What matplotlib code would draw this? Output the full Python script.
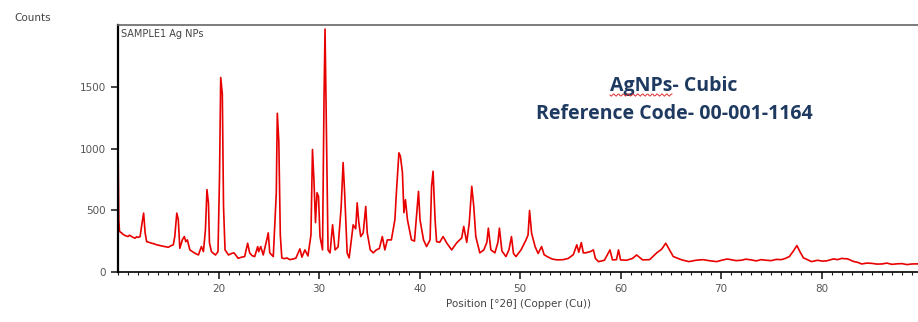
import numpy as np
import matplotlib
matplotlib.use("Agg")
import matplotlib.pyplot as plt
from matplotlib.ticker import MultipleLocator

two_theta = [
    10.02, 10.08, 10.15, 10.25, 10.35, 10.5, 10.6, 10.8, 11.0, 11.15, 11.3, 11.5, 11.7, 11.85,
    12.0, 12.2, 12.4, 12.55, 12.7, 12.85, 13.1, 13.35, 13.6, 13.85, 14.1, 14.35, 14.7, 15.0,
    15.25, 15.5, 15.65, 15.85, 16.0, 16.15, 16.4, 16.6, 16.75, 16.9, 17.15, 17.4, 17.65, 18.0,
    18.3, 18.5, 18.7, 18.85, 19.0, 19.1, 19.3, 19.5, 19.7, 19.95, 20.1, 20.22, 20.38, 20.5,
    20.65, 21.0, 21.3, 21.55, 21.95, 22.3, 22.6, 22.9, 23.1, 23.35, 23.6, 23.9, 24.0, 24.2,
    24.45, 24.8, 24.95, 25.1, 25.45, 25.75, 25.85, 26.0, 26.15, 26.3, 26.55, 26.8, 27.1, 27.4,
    27.7, 28.1, 28.3, 28.6, 28.9, 29.2, 29.35, 29.5, 29.65, 29.8, 29.95, 30.1, 30.35, 30.5,
    30.6, 30.75, 30.9, 31.1, 31.35, 31.6, 31.9, 32.2, 32.4, 32.55, 32.8, 33.0, 33.4, 33.65,
    33.8, 33.95, 34.15, 34.4, 34.65, 34.8, 35.1, 35.4, 35.7, 36.0, 36.3, 36.55, 36.8, 37.2,
    37.55, 37.7, 37.95, 38.1, 38.3, 38.45, 38.6, 38.8, 39.0, 39.2, 39.5, 39.75, 39.9, 40.05,
    40.4, 40.7, 41.05, 41.2, 41.35, 41.55, 41.7, 42.0, 42.35, 42.7, 43.2, 43.7, 44.2, 44.4,
    44.7, 44.95, 45.2, 45.4, 45.6, 46.0, 46.4, 46.7, 46.85, 47.1, 47.5, 47.8, 47.95, 48.2,
    48.6, 48.9, 49.15, 49.35, 49.6, 50.1, 50.6, 50.8, 50.95, 51.15, 51.5, 51.8, 52.15, 52.4,
    52.7, 53.2, 53.7, 54.3, 54.8, 55.3, 55.65, 55.85, 56.1, 56.3, 56.5, 57.0, 57.3, 57.5,
    57.8, 58.4, 58.95, 59.2, 59.6, 59.8, 60.0, 60.6, 61.2, 61.6, 62.2, 62.9, 63.6, 64.1,
    64.5, 64.8, 65.25, 66.1, 66.8, 67.5, 68.2, 68.8, 69.55, 70.2, 70.6, 71.0, 71.5, 72.0,
    72.5, 73.0, 73.5, 74.0, 74.5, 75.0, 75.5, 76.0, 76.4, 76.8, 77.2, 77.55, 77.85, 78.2,
    78.6, 79.0, 79.6, 80.1, 80.5, 81.2, 81.6, 82.0, 82.6, 83.2, 83.6, 84.0, 84.5, 85.0,
    85.5, 86.0, 86.5, 87.0, 87.5, 88.0, 88.5, 89.0, 89.6,
]
counts = [
    895, 420, 330, 322, 317, 305, 300, 292, 287, 298, 290, 280, 274, 285,
    280, 287, 400, 477, 317, 246, 240, 233, 228, 220, 216, 211, 205, 200,
    212, 220, 287, 477, 423, 192, 260, 287, 246, 260, 179, 165, 152, 138,
    206, 165, 342, 667, 558, 236, 165, 150, 138, 165, 765, 1575, 1440, 531,
    179, 138, 150, 155, 111, 120, 125, 233, 155, 132, 125, 206, 165, 206,
    138, 260, 317, 155, 125, 640, 1285, 1060, 300, 114, 108, 114, 100, 105,
    112, 187, 120, 179, 130, 300, 992, 734, 400, 642, 612, 287, 179, 1414,
    1967, 1049, 179, 155, 382, 179, 203, 520, 886, 642, 155, 114, 382, 350,
    560, 409, 287, 317, 531, 317, 179, 155, 179, 190, 287, 179, 260, 260,
    423, 642, 965, 938, 805, 480, 585, 423, 342, 260, 250, 500, 653, 423,
    260, 206, 260, 694, 816, 423, 246, 240, 287, 236, 179, 236, 276, 369,
    240, 398, 694, 531, 287, 155, 179, 240, 355, 179, 155, 240, 355, 170,
    125, 180, 287, 150, 125, 179, 260, 300, 498, 315, 206, 150, 206, 140,
    125, 105, 98, 100, 110, 140, 220, 160, 238, 155, 155, 165, 179, 110,
    84, 95, 179, 98, 100, 179, 98, 95, 110, 138, 98, 100, 155, 185,
    233, 190, 125, 98, 84, 95, 100, 92, 84, 98, 105, 100, 92, 95,
    104, 98, 90, 100, 95, 92, 102, 100, 110, 125, 170, 214, 165, 114,
    100, 84, 95, 88, 90, 106, 100, 110, 106, 85, 78, 65, 72, 70,
    64, 65, 72, 62, 66, 68, 60, 65, 66,
]

x_ticks = [20, 30, 40, 50, 60, 70, 80]
y_ticks = [0, 500, 1000, 1500]

fig = plt.figure(figsize=(9.18, 3.22), dpi=100, facecolor="white")
ax = fig.add_axes([118 / 918, 50 / 322, 1 - 118 / 918, 247 / 322])

ax.plot(two_theta, counts, color="#e80000", linewidth=1.2)

ax.set_xlim(10, 89.6)
ax.set_ylim(0, 2000)
ax.set_xticks(x_ticks)
ax.set_yticks(y_ticks)
ax.xaxis.set_minor_locator(MultipleLocator(1))

ax.spines["right"].set_visible(False)
ax.spines["left"].set_linewidth(1.6)
ax.spines["bottom"].set_linewidth(1.2)
ax.spines["top"].set_color("#666666")
ax.spines["top"].set_linewidth(1.2)

ax.tick_params(axis="both", which="major", direction="out", length=5, width=1.2,
               labelsize=7.5, labelcolor="#555555", color="#222222")
ax.tick_params(axis="x", which="minor", direction="out", length=2.5, width=0.8, color="#222222")

ax.set_xlabel("Position [°2θ] (Copper (Cu))", fontsize=7.5, color="#444444", labelpad=4)

fig.text(14 / 918, 1 - 18 / 322, "Counts", fontsize=7.5, color="#444444", va="center")
ax.text(0.004, 0.985, "SAMPLE1 Ag NPs", transform=ax.transAxes, fontsize=7,
        color="#444444", va="top", ha="left")

ax.text(0.695, 0.755, "AgNPs- Cubic", transform=ax.transAxes, fontsize=14,
        fontweight="bold", family="Open Sans", color="#1f3a60", ha="center", va="center")
ax.text(0.695, 0.64, "Reference Code- 00-001-1164", transform=ax.transAxes, fontsize=14,
        fontweight="bold", family="Open Sans", color="#1f3a60", ha="center", va="center")

# spell-check squiggle under "AgNPs"
sq_x = np.linspace(610, 672, 50)
sq_y = 95 + 1.2 * np.sin((sq_x - 610) * 1.3)
fig.add_artist(plt.Line2D(sq_x / 918, 1 - sq_y / 322, color="#e03030", linewidth=0.7))

fig.savefig("out.png", dpi=100, facecolor=fig.get_facecolor())
